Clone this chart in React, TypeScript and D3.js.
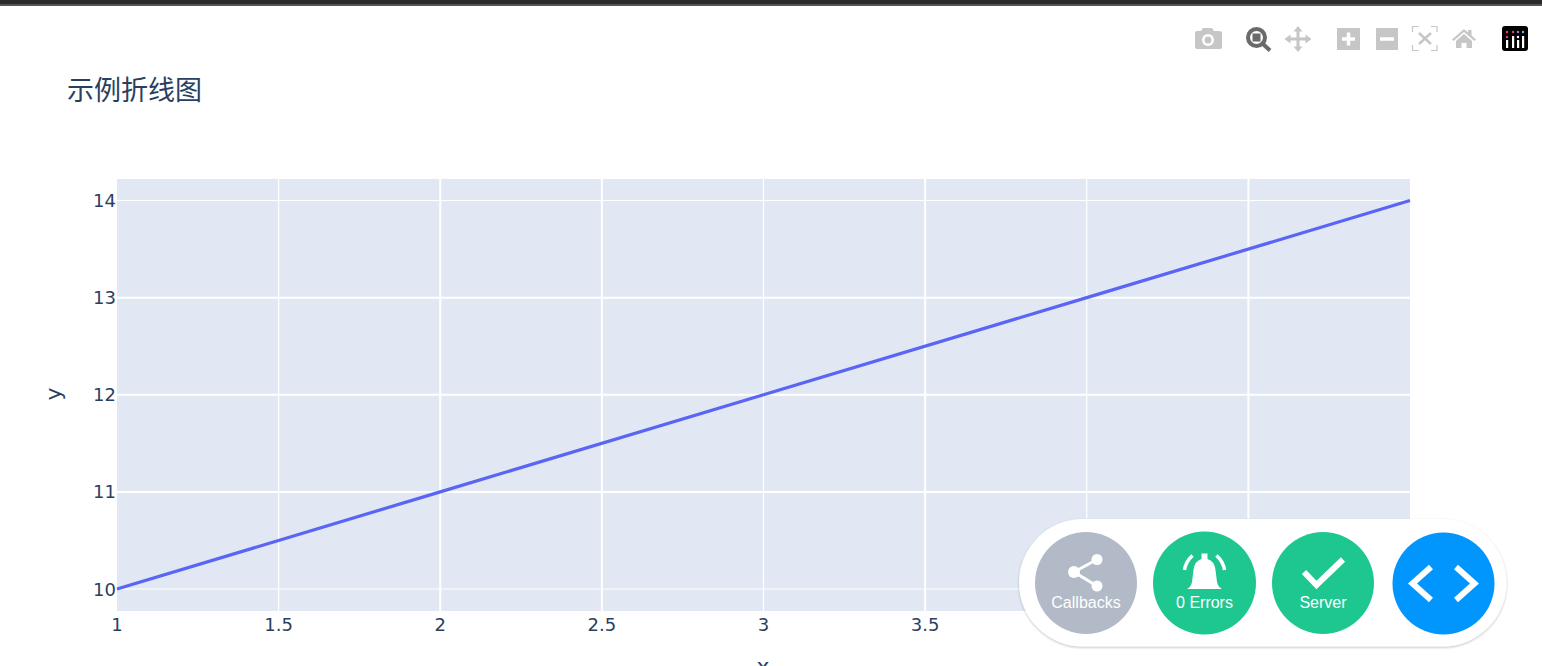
import React from "react";
import * as d3 from "d3";

const xValues = [1, 2, 3, 4, 5];
const yValues = [10, 11, 12, 13, 14];
const xTicks = [1, 1.5, 2, 2.5, 3, 3.5, 4, 4.5];
const yTicks = [10, 11, 12, 13, 14];
const xThinTicks = [1.5, 3, 4];
const yThinTicks = [10, 14];
const titleText = "示例折线图";
const xTitle = "x";
const yTitle = "y";

const W = 1542, H = 666;
const L = 117, R = 1410, T = 179, B = 611;
const x = d3.scaleLinear().domain([1, 5]).range([L, R]);
const y = d3.scaleLinear().domain([10, 14]).range([589, 200.5]);
const lineGen = d3.line<number>().x((_, i) => x(xValues[i])).y((d) => y(d));

const textColor = "#2a3f5f";
const font = "'DejaVu Sans', Verdana, sans-serif";
const ui = "'Liberation Sans', Arial, sans-serif";
const iconGrey = "#c6c6c6";

function Toolbar() {
  return (
    <g>
      {/* camera */}
      <path d="M1195 33 q0-2 2-2 h4 l2-3 h9 l2 3 h5 q3 0 3 2 v14 q0 2-2 2 h-23 q-2 0-2-2z" fill={iconGrey} />
      <circle cx="1208" cy="40" r="6" fill="#fff" />
      <circle cx="1208" cy="40" r="3.500" fill={iconGrey} />
      {/* zoom */}
      <circle cx="1256.500" cy="37.500" r="8.500" fill="none" stroke="#6a6a6a" strokeWidth={4} />
      <rect x="1252.500" y="33.500" width="8" height="8" fill="#6a6a6a" />
      <path d="M1263 44 L1270 50.500" stroke="#6a6a6a" strokeWidth={4} />
      {/* pan */}
      <path d="M1298 26 l4.500 5.500 h-3 v6 h6 v-3 l6 4.500 -6 4.500 v-3 h-6 v6 h3 l-4.500 5.500 -4.500-5.500 h3 v-6 h-6 v3 l-6-4.500 6-4.500 v3 h6 v-6 h-3z" fill={iconGrey} />
      {/* plus */}
      <rect x="1337" y="28" width="23" height="22" fill={iconGrey} />
      <path d="M1342 39 h13 M1348.500 32.500 v13" stroke="#fff" strokeWidth={3.500} />
      {/* minus */}
      <rect x="1376" y="28" width="22" height="22" fill={iconGrey} />
      <path d="M1380 39 h14" stroke="#fff" strokeWidth={3.500} />
      {/* autoscale */}
      <path d="M1412.500 32 v-5.500 h6 M1431 26.500 h6 v5.500 M1437 45 v5.500 h-6 M1418.500 50.500 h-6 v-5.500" fill="none" stroke={iconGrey} strokeWidth={1.200} />
      <path d="M1419 33 L1431 44 M1431 33 L1419 44" stroke={iconGrey} strokeWidth={2.500} />
      {/* home */}
      <path d="M1452 39.500 l12-10.500 4 3.500 v-2.500 h3.500 v5.500 l4.500 4 -1.500 1.500 -10.500-9 -10.500 9z" fill={iconGrey} />
      <path d="M1456 41 l8-7 8 7 v7 h-5.500 v-5 h-5 v5 h-5.500z" fill={iconGrey} />
      {/* logo */}
      <rect x="1502" y="26" width="26" height="25" rx="3" fill="#000" />
      {[1507, 1513, 1518, 1523].map((cx, i) => (
        <g key={cx}>
          <circle cx={cx} cy="32" r="1.200" fill={["#ef3a6e", "#ef3a6e", "#9a7bd0", "#5fc8e8"][i]} />
          <rect x={cx - 1} y={[40, 36, 40, 36][i]} width="2.200" height={[8, 12, 8, 12][i]} fill="#fff" />
        </g>
      ))}
      <circle cx="1507" cy="37" r="1.200" fill="#ef3a6e" />
      <circle cx="1518" cy="37" r="1.200" fill="#fff" />
    </g>
  );
}

function DebugMenu() {
  const labelStyle = { fontFamily: ui, fontSize: 16, fill: "#fff" };
  return (
    <g>
      <defs>
        <filter id="pill" x="-5%" y="-20%" width="110%" height="140%">
          <feDropShadow dx="0" dy="1" stdDeviation="1.200" floodColor="#23262e" floodOpacity="0.3" />
        </filter>
      </defs>
      <rect x="1019" y="519" width="487.500" height="127.500" rx="63.700" fill="#fff" filter="url(#pill)" />
      <circle cx="1086" cy="583" r="51" fill="#b1bac6" />
      <circle cx="1204.500" cy="583" r="51.500" fill="#1dc78f" />
      <circle cx="1323" cy="583" r="51" fill="#1dc78f" />
      <circle cx="1443.500" cy="583.500" r="51" fill="#0195fe" />
      {/* share */}
      <path d="M1097 559.500 L1074 572 L1097 586" fill="none" stroke="#fff" strokeWidth={3} />
      <circle cx="1097" cy="559.500" r="5.500" fill="#fff" />
      <circle cx="1074" cy="572" r="6" fill="#fff" />
      <circle cx="1097" cy="586" r="5.500" fill="#fff" />
      <text x="1086" y="607.500" textAnchor="middle" style={labelStyle}>Callbacks</text>
      {/* bell */}
      <path d="M1187 589 q4-2 5-7 l1.500-12 q1-9 8-11 v-5.500 h6 v5.500 q7 2 8 11 l1.500 12 q1 5 5 7z" fill="#fff" />
      <path d="M1184.500 570 q1-8 8-14.500 M1224.500 570 q-1-8-8-14.500" fill="none" stroke="#fff" strokeWidth={3.500} />
      <text x="1204.500" y="607.500" textAnchor="middle" style={labelStyle}>0 Errors</text>
      {/* check */}
      <path d="M1304 572 L1316.500 585 L1343 559.500" fill="none" stroke="#fff" strokeWidth={6} />
      <text x="1323" y="607.500" textAnchor="middle" style={labelStyle}>Server</text>
      {/* code */}
      <path d="M1431 567 L1412.500 583.500 L1431 600 M1456 567 L1474.500 583.500 L1456 600" fill="none" stroke="#fff" strokeWidth={6} />
    </g>
  );
}

export default function App() {
  return (
    <svg width={W} height={H} viewBox={`0 0 ${W} ${H}`} style={{ position: "absolute", left: 0, top: 0, display: "block", background: "#fff" }}>
      <rect x="0" y="0" width={W} height="6" fill="#2b2b2b" />
      <rect x="0" y="4" width={W} height="2" fill="#555" />
      <Toolbar />
      <text x="67" y="100" fontFamily="'Noto Sans CJK SC', sans-serif" fontSize={27} fill={textColor}>{titleText}</text>
      <rect x={L} y={T} width={R - L} height={B - T} fill="#e1e8f3" />
      {xTicks.filter((t) => t !== 1).map((t) => (
        <line key={t} x1={x(t)} x2={x(t)} y1={T} y2={B} stroke="#fff" strokeWidth={xThinTicks.includes(t) ? 1.200 : 2} />
      ))}
      {yTicks.map((t) => (
        <line key={t} x1={L} x2={R} y1={y(t)} y2={y(t)} stroke="#fff" strokeWidth={yThinTicks.includes(t) ? 1.200 : 2} />
      ))}
      <path d={lineGen(yValues) ?? ""} fill="none" stroke="#5a64f5" strokeWidth={3.200} />
      {xTicks.map((t) => (
        <text key={t} x={x(t)} y={631} textAnchor="middle" fontFamily={font} fontSize={18} fill={textColor}>{String(t)}</text>
      ))}
      {yTicks.map((t) => (
        <text key={t} x={L - 1} y={y(t) + 6.500} textAnchor="end" fontFamily={font} fontSize={18} fill={textColor}>{String(t)}</text>
      ))}
      <text x={763} y={674} textAnchor="middle" fontFamily={font} fontSize={22} fill={textColor}>{xTitle}</text>
      <text transform="translate(61,394) rotate(-90)" textAnchor="middle" fontFamily={font} fontSize={22} fill={textColor}>{yTitle}</text>
      <DebugMenu />
    </svg>
  );
}
